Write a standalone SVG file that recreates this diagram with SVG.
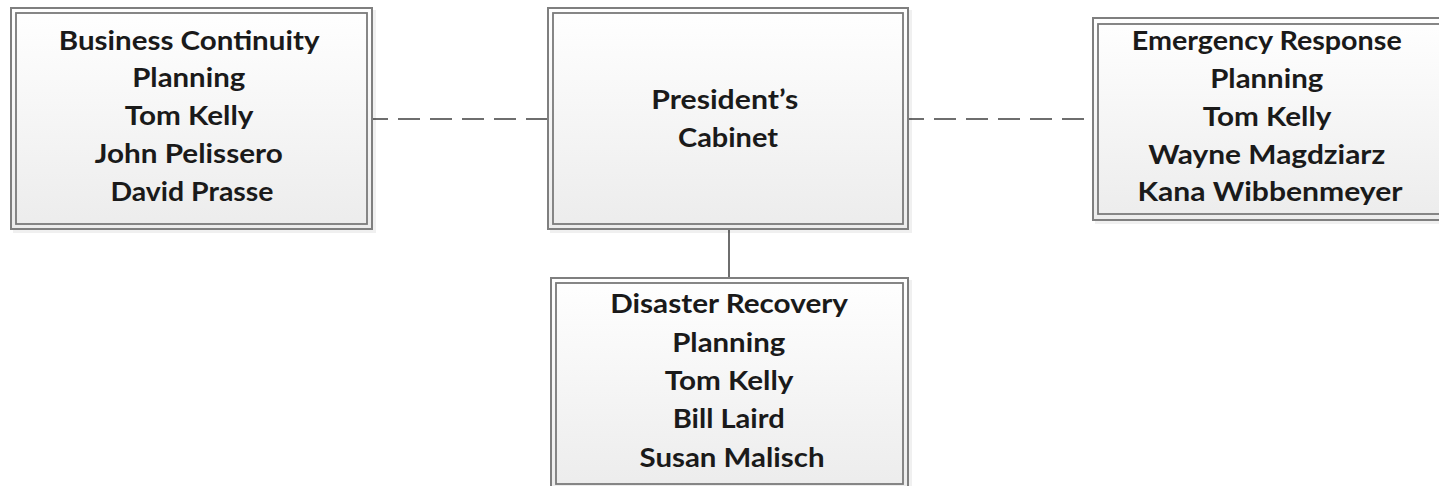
<svg xmlns="http://www.w3.org/2000/svg" width="1439" height="486" viewBox="0 0 1439 486">
  <defs>
    <linearGradient id="boxFill" x1="0" y1="0" x2="0" y2="1">
      <stop offset="0" stop-color="#ffffff"/>
      <stop offset="1" stop-color="#ececec"/>
    </linearGradient>
    <style>
      .outer { fill: url(#boxFill); stroke: #7f7f7f; stroke-width: 2; }
      .inner { fill: none; stroke: #7a7a7a; stroke-width: 1.8; }
      .shadow { fill: #000; opacity: 0.06; }
      .label { font-family: Lato, "Open Sans", "Liberation Sans", sans-serif; font-weight: 700; font-size: 27px; fill: #1a1a1a; text-anchor: middle; }
      .link { stroke: #6e6e6e; stroke-width: 2; fill: none; }
      .dashed { stroke-dasharray: 22 10; }
    </style>
  </defs>

  <!-- connectors -->
  <g id="connectors">
    <line class="link dashed" x1="373" y1="119" x2="547" y2="119" stroke-dashoffset="7"/>
    <line class="link dashed" x1="909" y1="119" x2="1092" y2="119" stroke-dashoffset="7"/>
    <line class="link" x1="729" y1="230" x2="729" y2="278"/>
  </g>

  <!-- Business Continuity Planning -->
  <g id="business-continuity">
    <rect class="shadow" x="13" y="10" width="363" height="223"/>
    <rect class="outer" x="11" y="8" width="361" height="221"/>
    <rect class="inner" x="16" y="13" width="351" height="211"/>
    <text class="label">
      <tspan x="192" y="50" textLength="260" lengthAdjust="spacingAndGlyphs">Business Continuity</tspan>
      <tspan x="192" y="87" textLength="113" lengthAdjust="spacingAndGlyphs">Planning</tspan>
      <tspan x="192" y="125" textLength="128" lengthAdjust="spacingAndGlyphs">Tom Kelly</tspan>
      <tspan x="192" y="163" textLength="188" lengthAdjust="spacingAndGlyphs">John Pelissero</tspan>
      <tspan x="192" y="201" textLength="163" lengthAdjust="spacingAndGlyphs">David Prasse</tspan>
    </text>
  </g>

  <!-- President's Cabinet -->
  <g id="presidents-cabinet">
    <rect class="shadow" x="550" y="10" width="362" height="223"/>
    <rect class="outer" x="548" y="8" width="360" height="221"/>
    <rect class="inner" x="553" y="13" width="350" height="211"/>
    <text class="label">
      <tspan x="728" y="109" textLength="147" lengthAdjust="spacingAndGlyphs">President’s</tspan>
      <tspan x="728" y="147" textLength="100" lengthAdjust="spacingAndGlyphs">Cabinet</tspan>
    </text>
  </g>

  <!-- Emergency Response Planning -->
  <g id="emergency-response">
    <rect class="shadow" x="1095" y="20" width="360" height="204"/>
    <rect class="outer" x="1093" y="18" width="360" height="202"/>
    <rect class="inner" x="1098" y="24" width="350" height="190"/>
    <text class="label">
      <tspan x="1270" y="50" textLength="270" lengthAdjust="spacingAndGlyphs">Emergency Response</tspan>
      <tspan x="1270" y="88" textLength="113" lengthAdjust="spacingAndGlyphs">Planning</tspan>
      <tspan x="1270" y="126" textLength="128" lengthAdjust="spacingAndGlyphs">Tom Kelly</tspan>
      <tspan x="1270" y="164" textLength="237" lengthAdjust="spacingAndGlyphs">Wayne Magdziarz</tspan>
      <tspan x="1270" y="201" textLength="265" lengthAdjust="spacingAndGlyphs">Kana Wibbenmeyer</tspan>
    </text>
  </g>

  <!-- Disaster Recovery Planning -->
  <g id="disaster-recovery">
    <rect class="shadow" x="553" y="280" width="359" height="214"/>
    <rect class="outer" x="551" y="278" width="357" height="212"/>
    <rect class="inner" x="556" y="283" width="347" height="201"/>
    <text class="label">
      <tspan x="732" y="313" textLength="237" lengthAdjust="spacingAndGlyphs">Disaster Recovery</tspan>
      <tspan x="732" y="352" textLength="113" lengthAdjust="spacingAndGlyphs">Planning</tspan>
      <tspan x="732" y="390" textLength="128" lengthAdjust="spacingAndGlyphs">Tom Kelly</tspan>
      <tspan x="732" y="428" textLength="112" lengthAdjust="spacingAndGlyphs">Bill Laird</tspan>
      <tspan x="732" y="467" textLength="185" lengthAdjust="spacingAndGlyphs">Susan Malisch</tspan>
    </text>
  </g>
</svg>
